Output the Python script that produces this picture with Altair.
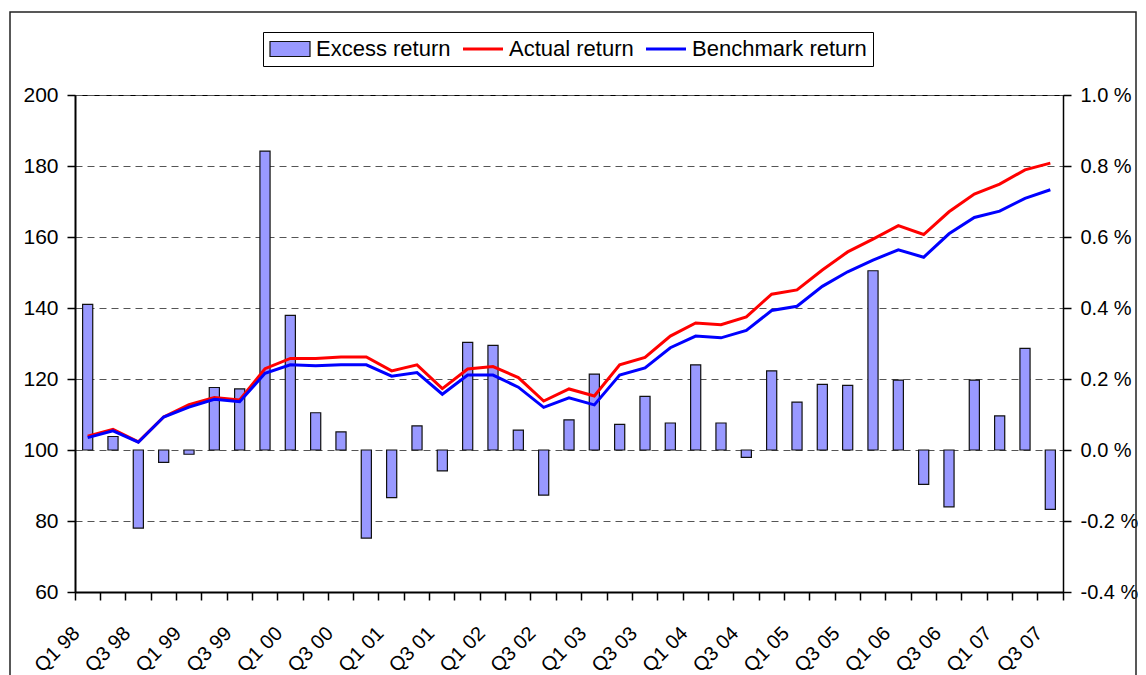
import altair as alt
import pandas as pd

FONT = "Liberation Sans"

quarters = [
    "Q1 98", "Q2 98", "Q3 98", "Q4 98",
    "Q1 99", "Q2 99", "Q3 99", "Q4 99",
    "Q1 00", "Q2 00", "Q3 00", "Q4 00",
    "Q1 01", "Q2 01", "Q3 01", "Q4 01",
    "Q1 02", "Q2 02", "Q3 02", "Q4 02",
    "Q1 03", "Q2 03", "Q3 03", "Q4 03",
    "Q1 04", "Q2 04", "Q3 04", "Q4 04",
    "Q1 05", "Q2 05", "Q3 05", "Q4 05",
    "Q1 06", "Q2 06", "Q3 06", "Q4 06",
    "Q1 07", "Q2 07", "Q3 07",
]

# Excess return, percent (right-hand axis)
excess_pct = [
    0.41, 0.038, -0.22, -0.035,
    -0.012, 0.176, 0.172, 0.842,
    0.379, 0.105, 0.051, -0.248,
    -0.134, 0.068, -0.059, 0.303,
    0.295, 0.056, -0.127, 0.085,
    0.214, 0.072, 0.151, 0.076,
    0.240, 0.076, -0.021, 0.223,
    0.135, 0.185, 0.182, 0.505,
    0.197, -0.097, -0.160, 0.197,
    0.096, 0.286, -0.167,
]

# Index levels (left-hand axis)
actual_idx = [
    103.9, 105.8, 102.3, 109.3,
    112.8, 114.8, 114.1, 122.9,
    125.8, 125.8, 126.2, 126.2,
    122.3, 124.0, 117.3, 122.8,
    123.5, 120.4, 113.8, 117.2,
    115.2, 124.0, 126.1, 132.1,
    135.8, 135.3, 137.5, 143.9,
    145.1, 150.7, 155.8, 159.4,
    163.2, 160.7, 167.1, 172.1,
    174.9, 178.9, 180.8,
]
benchmark_idx = [
    103.5, 105.4, 102.2, 109.3,
    112.1, 114.3, 113.6, 121.6,
    124.0, 123.7, 124.0, 124.0,
    120.8, 121.8, 115.7, 121.1,
    121.1, 117.7, 112.0, 114.7,
    112.7, 121.1, 123.1, 128.8,
    132.1, 131.6, 133.7, 139.3,
    140.5, 146.1, 150.2, 153.5,
    156.4, 154.3, 160.9, 165.5,
    167.3, 170.9, 173.3,
]

legend_labels = ["Excess return", "Actual return", "Benchmark return"]
legend_fills = ["#9999FF", "#FF0000", "#0000FF"]
legend_strokes = ["#111111", "transparent", "transparent"]
legend_shapes = [
    "M-1,-0.75H3V0.75H-1Z",
    "M-1,-0.15H3V0.15H-1Z",
    "M-1,-0.15H3V0.15H-1Z",
]
line_names = ["Actual return", "Benchmark return"]
line_colors = ["#FF0000", "#0000FF"]

left_ticks = [60, 80, 100, 120, 140, 160, 180, 200]
right_ticks = [-0.4, -0.2, 0.0, 0.2, 0.4, 0.6, 0.8, 1.0]

n = len(quarters)
bars_df = pd.DataFrame({"quarter": quarters, "excess": excess_pct})
lines_df = pd.DataFrame({
    "quarter": quarters * 2,
    "value": actual_idx + benchmark_idx,
    "series": [line_names[0]] * n + [line_names[1]] * n,
})
legend_df = pd.DataFrame({"series": legend_labels})
frame_df = pd.DataFrame({"k": [0]})

x_scale = alt.Scale(type="band", domain=quarters, paddingInner=0, paddingOuter=0)

x_axis = alt.Axis(
    title=None, orient="bottom", labelAngle=-45, labelAlign="right", labelBaseline="middle",
    labelOffset=-11, labelPadding=30, labelFontSize=20, bandPosition=1, tickExtra=True,
    tickSize=8, tickWidth=1.5, tickColor="#000000", tickOpacity=1, domainWidth=2,
    labelOverlap=False, grid=False, ticks=True, labels=True,
    labelExpr="(indexof(datum.label, 'Q1') == 0 || indexof(datum.label, 'Q3') == 0) ? datum.label : ''",
)

left_axis = alt.Axis(
    title=None, orient="left", values=left_ticks, grid=True, gridDash=[7, 5],
    gridColor="#555555", gridWidth=1, tickSize=8, tickWidth=1.5, domainWidth=2,
    labelPadding=9,
)
right_axis = alt.Axis(
    title=None, orient="right", values=right_ticks, grid=False, tickSize=8, tickWidth=1.5,
    domainWidth=1.5, labelPadding=9, labelFontSize=20,
    labelExpr="(datum.value < -0.0001 ? '-' : '') + format(abs(datum.value), '.1f') + ' %'",
)

frame = alt.Chart(frame_df).mark_rect(
    fill="transparent", stroke="#222222", strokeWidth=1.5
).encode(
    x=alt.value(-65), x2=alt.value(1061), y=alt.value(-83), y2=alt.value(620)
)

bars = alt.Chart(bars_df).mark_bar(
    width=alt.RelativeBandSize(0.4), fill="#9999FF", stroke="#111111", strokeWidth=1.2
).encode(
    x=alt.X("quarter:N", scale=x_scale, sort=quarters, axis=x_axis),
    y=alt.Y("excess:Q", scale=alt.Scale(domain=[-0.4, 1.0], nice=False, zero=False), axis=right_axis),
    y2=alt.datum(0),
)

lines = alt.Chart(lines_df).mark_line(strokeWidth=3).encode(
    x=alt.X("quarter:N", scale=x_scale, sort=quarters, axis=x_axis),
    y=alt.Y("value:Q", scale=alt.Scale(domain=[60, 200], nice=False, zero=False), axis=left_axis),
    color=alt.Color("series:N", scale=alt.Scale(domain=line_names, range=line_colors), legend=None),
)

leg = alt.Legend(
    title=None, orient="none", legendX=188, legendY=-63, direction="horizontal",
    symbolSize=400, symbolStrokeWidth=1.2, labelOffset=25, columnPadding=9, padding=6,
    strokeColor="#000000", fillColor="#ffffff", labelFontSize=22, labelFont=FONT,
    labelColor="#000000", labelLimit=400,
)

legend_layer = alt.Chart(legend_df).transform_filter("false").mark_point(
    filled=True, opacity=1
).encode(
    fill=alt.Fill("series:N", scale=alt.Scale(domain=legend_labels, range=legend_fills), legend=leg),
    stroke=alt.Stroke("series:N", scale=alt.Scale(domain=legend_labels, range=legend_strokes), legend=leg),
    shape=alt.Shape("series:N", scale=alt.Scale(domain=legend_labels, range=legend_shapes), legend=leg),
)

chart = alt.layer(frame, bars, lines, legend_layer).resolve_scale(
    y="independent"
).properties(
    width=988, height=497,
    padding={"left": 1, "top": 3, "right": 0, "bottom": 0},
).configure(
    font=FONT,
).configure_axis(
    labelFont=FONT, labelFontSize=21, labelColor="#000000",
    tickColor="#000000", domainColor="#000000",
).configure_view(
    stroke="#000000", strokeWidth=1,
)

chart.save("out.html", embed_options={"renderer": "svg", "actions": False})
